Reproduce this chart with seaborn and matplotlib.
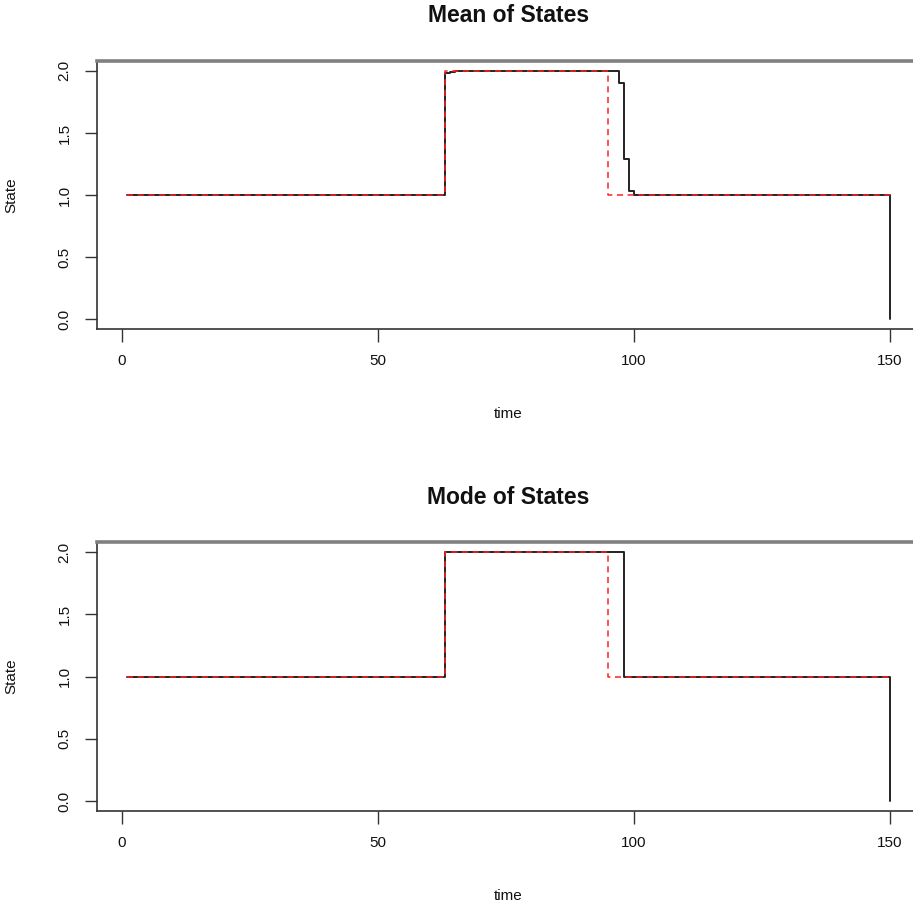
import matplotlib
matplotlib.use("Agg")
import matplotlib.pyplot as plt
import seaborn as sns
import pandas as pd

# step change points (time, value)
mean_time = [1, 63, 64, 65, 97, 98, 99, 100, 150]
mean_state = [1.0, 1.98, 1.99, 2.0, 1.90, 1.29, 1.03, 1.0, 0.0]

mode_time = [1, 63, 98, 150]
mode_state = [1.0, 2.0, 1.0, 0.0]

true_time = [1, 63, 95, 150]
true_state = [1.0, 2.0, 1.0, 1.0]

x_ticks = [0, 50, 100, 150]
y_ticks = [0.0, 0.5, 1.0, 1.5, 2.0]
y_tick_labels = ["0.0", "0.5", "1.0", "1.5", "2.0"]
titles = ["Mean of States", "Mode of States"]

sns.set_style("white")
plt.rcParams["font.family"] = ["Liberation Sans", "DejaVu Sans"]

W, H = 913, 906
fig = plt.figure(figsize=(W / 100, H / 100), dpi=100)

panels = [
    (titles[0], mean_time, mean_state, 61, 329),
    (titles[1], mode_time, mode_state, 542, 811),
]

left_px, right_px = 96.6, 920.5
for title, t, s, top_px, bot_px in panels:
    ax = fig.add_axes([left_px / W, 1 - bot_px / H, (right_px - left_px) / W, (bot_px - top_px) / H])
    est_df = pd.DataFrame({"time": t, "State": s})
    tru_df = pd.DataFrame({"time": true_time, "State": true_state})
    sns.lineplot(data=est_df, x="time", y="State", ax=ax, color="#222222", lw=1.4,
                 drawstyle="steps-post", estimator=None, sort=False)
    sns.lineplot(data=tru_df, x="time", y="State", ax=ax, color="#ff2020", lw=1.1,
                 linestyle=(0, (4, 3)), drawstyle="steps-post", estimator=None, sort=False)
    ax.set_xlim(1 - 0.04 * 149, 150 + 0.04 * 149)
    ax.set_ylim(-0.08, 2.08)
    ax.set_xticks(x_ticks)
    ax.set_xticklabels([str(v) for v in x_ticks], fontsize=11, color="#111111")
    ax.set_yticks(y_ticks)
    ax.set_yticklabels(y_tick_labels, rotation=90, va="center", fontsize=11, color="#111111")
    ax.tick_params(axis="both", direction="out", length=9, width=1, color="#333333",
                   pad=9, bottom=True, left=True)
    for side in ["left", "bottom", "right"]:
        ax.spines[side].set_color("#333333")
        ax.spines[side].set_linewidth(1.2)
    ax.spines["top"].set_color("#808080")
    ax.spines["top"].set_linewidth(2.6)
    h = bot_px - top_px
    ax.set_xlabel("time", fontsize=11, color="#111111")
    ax.set_ylabel("State", fontsize=11, color="#111111")
    ax.xaxis.set_label_coords(0.5, -78 / h)
    ax.yaxis.set_label_coords((18 - left_px) / (right_px - left_px), 0.5)
    ax.text(0.5, 1 + 45 / h, title, transform=ax.transAxes, ha="center", va="center",
            fontsize=16.5, fontweight="bold", color="#111111")

fig.savefig("out.png", dpi=100)
